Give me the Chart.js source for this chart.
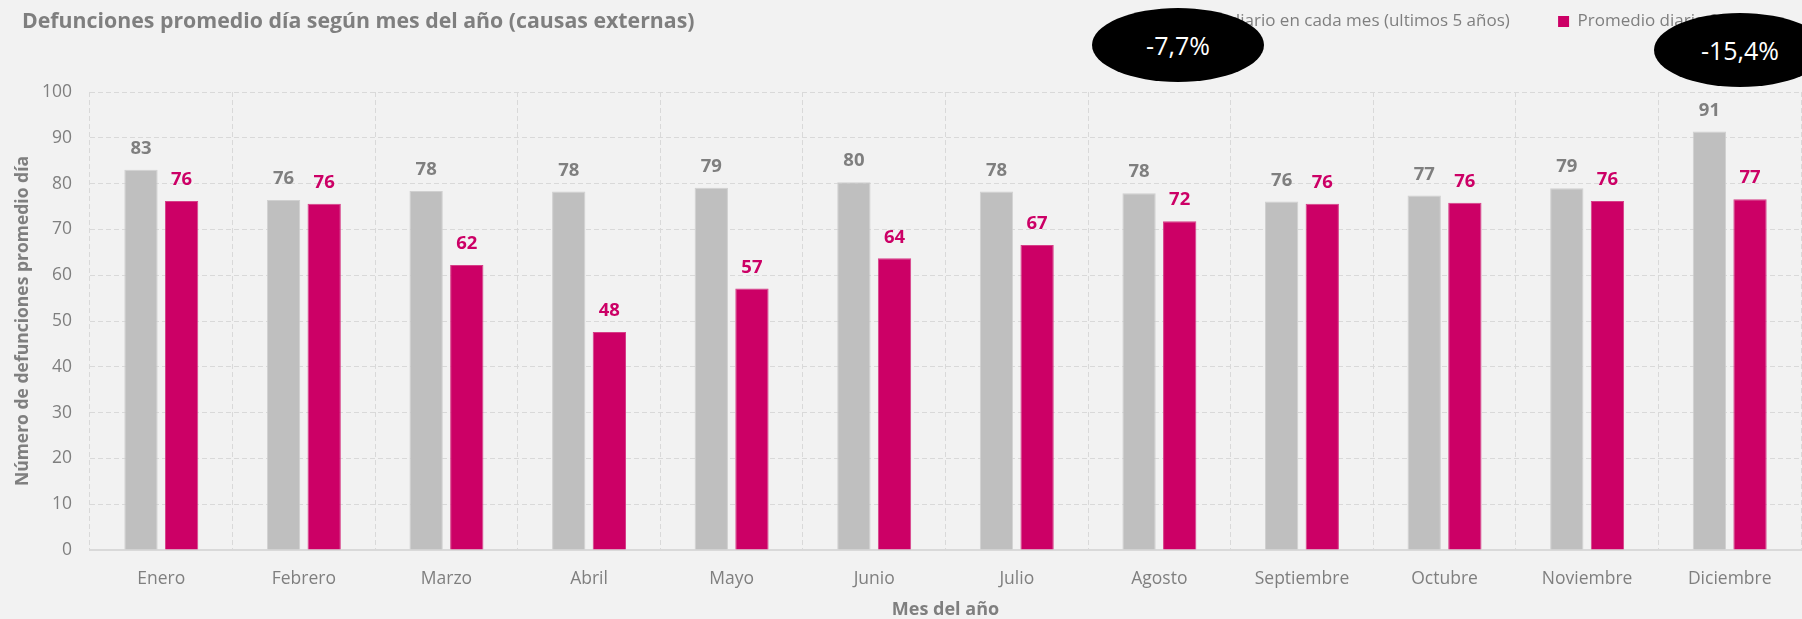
<!DOCTYPE html>
<html><head><meta charset="utf-8">
<script src="https://cdn.jsdelivr.net/npm/chart.js@4/dist/chart.umd.min.js"></script>
<style>
html,body{margin:0;padding:0;background:#f2f2f2;overflow:hidden;}
#wrap{position:relative;width:1802px;height:619px;overflow:hidden;}
#title{position:absolute;left:22px;top:6px;font-family:'Open Sans';font-weight:700;font-size:21.3px;line-height:28px;color:#7f7f7f;white-space:nowrap;}
.ell{position:absolute;background:#000;color:#fff;border-radius:50%;display:flex;align-items:center;justify-content:center;font-family:'Open Sans';font-size:25px;}
</style></head><body>
<div id="wrap">
<canvas id="c" width="1802" height="619"></canvas>
<div id="title">Defunciones promedio día según mes del año (causas externas)</div>
<div class="ell" id="e1" style="left:1092px;top:8px;width:172px;height:74px;"></div>
<div class="ell" id="e2" style="left:1654px;top:13px;width:172px;height:74px;"></div>
</div>
<script>
const months = ['Enero','Febrero','Marzo','Abril','Mayo','Junio','Julio','Agosto','Septiembre','Octubre','Noviembre','Diciembre'];
const avgLast5 = [83.0, 76.4, 78.4, 78.3, 79.1, 80.3, 78.3, 77.9, 76.1, 77.4, 79.0, 91.4];
const avg2020 = [76.2, 75.6, 62.2, 47.6, 57.1, 63.7, 66.6, 71.8, 75.6, 75.8, 76.2, 76.6];
const seriesNames = ['Promedio diario en cada mes (ultimos 5 años)', 'Promedio diario 2020'];
const yTicks = [0, 10, 20, 30, 40, 50, 60, 70, 80, 90, 100];
const annotations = ['-7,7%', '-15,4%'];

document.getElementById('e1').textContent = annotations[0];
document.getElementById('e2').textContent = annotations[1];

const GRAY = '#bfbfbf', PINK = '#cc0066', TXT = '#7f7f7f';

const barLabels = {
  id: 'barLabels',
  afterDatasetsDraw(chart) {
    const ctx = chart.ctx;
    chart.data.datasets.forEach((ds, i) => {
      const meta = chart.getDatasetMeta(i);
      meta.data.forEach((bar, j) => {
        ctx.save();
        ctx.font = 'bold 18.5px "Open Sans"';
        ctx.fillStyle = ds.labelColor;
        ctx.textAlign = 'center';
        ctx.textBaseline = 'middle';
        ctx.fillText(String(Math.round(ds.data[j])), bar.x, bar.y - 21);
        ctx.restore();
      });
    });
  }
};

new Chart(document.getElementById('c'), {
  type: 'bar',
  data: {
    labels: months,
    datasets: [
      { label: seriesNames[0], data: avgLast5, backgroundColor: GRAY, borderColor: '#d0d0d0', borderWidth: 1, labelColor: TXT,
        categoryPercentage: 0.57, barPercentage: 0.82 },
      { label: seriesNames[1], data: avg2020, backgroundColor: PINK, borderColor: '#d63f88', borderWidth: 1, labelColor: PINK,
        categoryPercentage: 0.57, barPercentage: 0.82 }
    ]
  },
  options: {
    responsive: false,
    animation: false,
    devicePixelRatio: 1,
    layout: { padding: { left: 0, right: 1, top: 3, bottom: 0 } },
    plugins: {
      tooltip: { enabled: false },
      legend: {
        position: 'top', align: 'end', weight: 3000,
        labels: {
          boxWidth: 11, boxHeight: 11, padding: 10, color: TXT,
          font: { family: 'Open Sans', size: 17 },
          generateLabels(chart) {
            const items = Chart.defaults.plugins.legend.labels.generateLabels(chart);
            items[0].text = items[0].text + '\u2003\u2003\u2005';
            items[1].text = items[1].text + '\u2003\u2003\u2002';
            items.forEach(it => { it.lineWidth = 0; });
            return items;
          }
        }
      },
      subtitle: { display: true, text: '', font: { size: 1, lineHeight: 1 }, padding: { top: 0, bottom: 51 } }
    },
    scales: {
      x: {
        grid: { display: true, color: '#d9d9d9', drawTicks: false, offset: true, lineWidth: 1 },
        border: { display: true, color: '#d9d9d9', width: 2, dash: [5, 3] },
        ticks: { color: TXT, font: { family: 'Open Sans', size: 17.5 }, padding: 19 },
        title: { display: true, text: 'Mes del año', color: TXT, font: { family: 'Open Sans', size: 18, weight: 'bold', lineHeight: 1 }, padding: { top: 0, bottom: 0 } },
        afterFit(scale) { scale.height = 69; }
      },
      y: {
        min: 0, max: 100,
        afterBuildTicks(scale) { scale.ticks = yTicks.map(v => ({ value: v })); },
        grid: { color: '#d9d9d9', drawTicks: false, lineWidth: 1 },
        border: { display: false, dash: [5, 3] },
        ticks: { color: TXT, font: { family: 'Open Sans', size: 17.5 }, padding: 18 },
        title: { display: true, text: 'Número de defunciones promedio día', color: TXT, font: { family: 'Open Sans', size: 17.5, weight: 'bold' }, padding: { top: 12.5, bottom: 0 } },
        afterFit(scale) { scale.width = 90; }
      }
    }
  },
  plugins: [barLabels]
});
</script>
</body></html>
